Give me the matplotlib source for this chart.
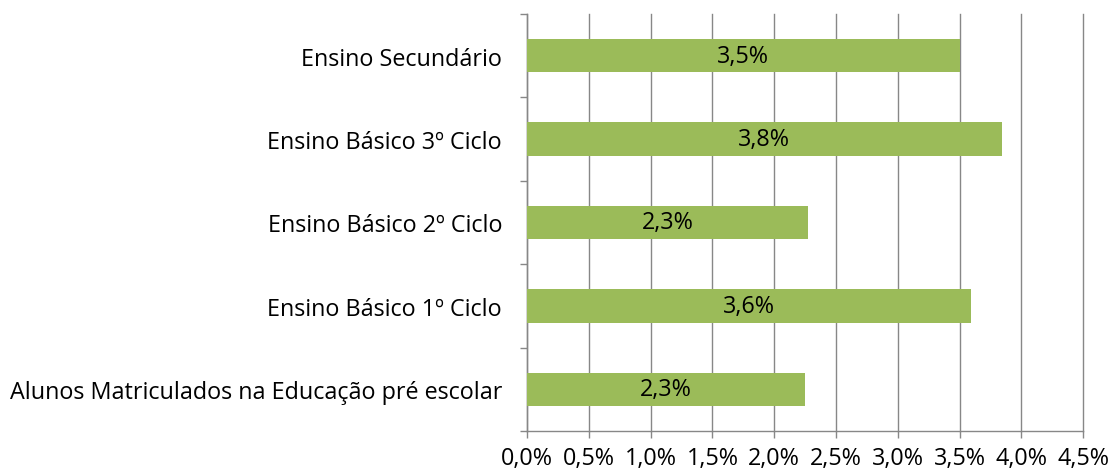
import matplotlib
matplotlib.use("Agg")
import matplotlib.pyplot as plt
import numpy as np

categories = ["Alunos Matriculados na Educação pré escolar",
              "Ensino Básico 1º Ciclo",
              "Ensino Básico 2º Ciclo",
              "Ensino Básico 3º Ciclo",
              "Ensino Secundário"]
values = [2.25, 3.59, 2.27, 3.84, 3.50]
bar_labels = ["2,3%", "3,6%", "2,3%", "3,8%", "3,5%"]
xticks = [0.0, 0.5, 1.0, 1.5, 2.0, 2.5, 3.0, 3.5, 4.0, 4.5]

plt.rcParams['font.family'] = ['Open Sans', 'DejaVu Sans']
grey = "#878787"
fs = 16.8

fig = plt.figure(figsize=(11.12, 4.77), dpi=100)
ax = fig.add_axes([0.474, 0.0943, 0.5, 0.8743])

y = np.arange(len(categories))
bars = ax.barh(y, values, height=0.4, color="#9BBB59", zorder=3)
for b, lab in zip(bars, bar_labels):
    ax.text(b.get_width() / 2, b.get_y() + b.get_height() / 2, lab,
            ha="center", va="center", fontsize=fs, color="black", zorder=4)

ax.set_xlim(0, 4.5)
ax.set_ylim(-0.5, len(categories) - 0.5)
ax.set_xticks(xticks)
ax.set_xticklabels([f"{t:.1f}%".replace(".", ",") for t in xticks], fontsize=fs)
ax.set_yticks(y)
ax.set_yticklabels(categories, fontsize=fs)
ax.set_yticks(np.arange(-0.5, len(categories), 1), minor=True)

ax.tick_params(axis="y", which="major", length=0, pad=18)
ax.tick_params(axis="y", which="minor", length=5, color=grey, width=1)
ax.tick_params(axis="x", length=5, color=grey, width=1, pad=6)

ax.grid(axis="x", color=grey, linewidth=1, zorder=0)
for gl in ax.get_xgridlines():
    gl.set_clip_on(False)
ax.set_axisbelow(True)
for s in ["top", "right"]:
    ax.spines[s].set_visible(False)
for s in ["left", "bottom"]:
    ax.spines[s].set_color(grey)
    ax.spines[s].set_linewidth(1)

fig.savefig("out.png", dpi=100)
